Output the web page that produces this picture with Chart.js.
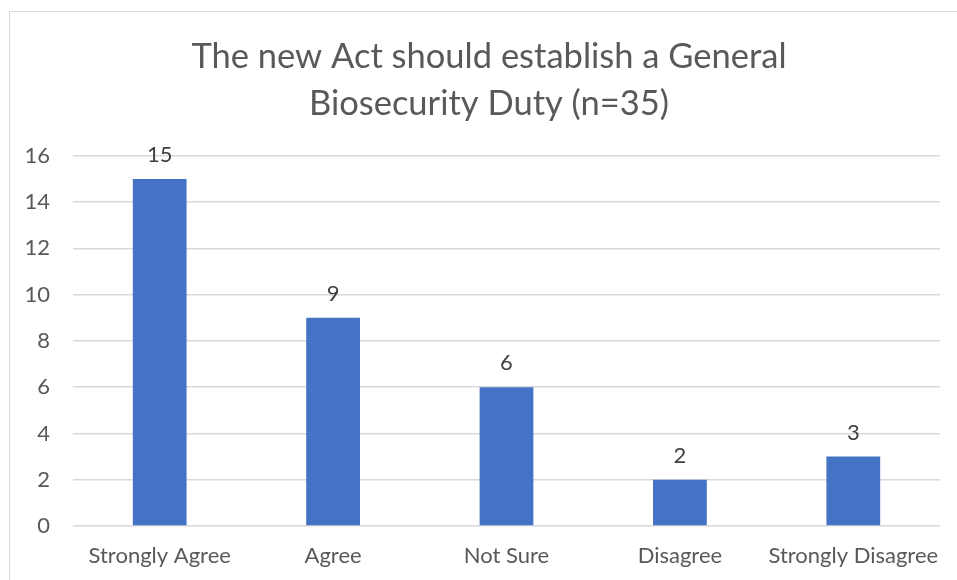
<!DOCTYPE html>
<html>
<head>
<meta charset="utf-8">
<script src="https://cdn.jsdelivr.net/npm/chart.js@4/dist/chart.umd.min.js"></script>
<style>
  html, body { margin: 0; padding: 0; background: #fff; overflow: hidden; }
  #wrap { position: relative; width: 957px; height: 580px; }
  #frame {
    position: absolute; left: 9px; top: 11px; width: 1000px; height: 1000px;
    border: 1.5px solid #d9d9d9; box-sizing: border-box;
  }
  canvas { position: absolute; left: 0; top: 0; }
</style>
</head>
<body>
<div id="wrap">
  <div id="frame"></div>
  <canvas id="chart" width="957" height="580"></canvas>
</div>
<script>
// Respuestas de la encuesta
const categories = ['Strongly Agree', 'Agree', 'Not Sure', 'Disagree', 'Strongly Disagree'];
const responses = [15, 9, 6, 2, 3];
const titleLines = ['The new Act should establish a General', 'Biosecurity Duty (n=35)'];
const yMax = 16;
const yStep = 2;

const fontFamily = 'Lato, "Open Sans", sans-serif';

// Etiquetas de valor encima de cada barra
const valueLabels = {
    id: 'valueLabels',
    afterDatasetsDraw(chart) {
        const ctx = chart.ctx;
        const meta = chart.getDatasetMeta(0);
        ctx.save();
        ctx.font = '22px ' + fontFamily;
        ctx.fillStyle = '#404040';
        ctx.textAlign = 'center';
        ctx.textBaseline = 'middle';
        meta.data.forEach((bar, i) => {
            ctx.fillText(String(chart.data.datasets[0].data[i]), bar.x, bar.y - 24);
        });
        ctx.restore();
    }
};

// Centrar el título dentro del marco (no sobre todo el lienzo)
const titleShift = {
    id: 'titleShift',
    afterLayout(chart) {
        if (chart.titleBlock) chart.titleBlock.left += 38;
    }
};

function initChart() {
    const ctx = document.getElementById('chart').getContext('2d');
    new Chart(ctx, {
        type: 'bar',
        data: {
            labels: categories,
            datasets: [{
                data: responses,
                backgroundColor: '#4472c4',
                borderWidth: 0,
                barPercentage: 0.62,
                categoryPercentage: 0.5
            }]
        },
        options: {
            responsive: false,
            animation: false,
            layout: { padding: { left: 0, right: 17, top: 33, bottom: 0 } },
            plugins: {
                legend: { display: false },
                tooltip: { enabled: false },
                title: {
                    display: true,
                    text: titleLines,
                    color: '#595959',
                    font: { family: fontFamily, size: 34.5, weight: 'normal', lineHeight: 1.36 },
                    padding: { top: 0, bottom: 29 }
                }
            },
            scales: {
                x: {
                    grid: { display: false, drawTicks: false },
                    border: { display: false },
                    ticks: {
                        color: '#595959', font: { family: fontFamily, size: 22 }, padding: 17,
                        maxRotation: 0, minRotation: 0, autoSkip: false
                    },
                    // Alto fijo del eje y sin relleno extra por las etiquetas de los extremos
                    afterFit(scale) {
                        scale.height = 54;
                        scale.paddingLeft = 0;
                        scale.paddingRight = 0;
                    }
                },
                y: {
                    min: 0,
                    max: yMax,
                    grid: { color: '#d9d9d9', lineWidth: 1.5, drawTicks: false },
                    border: { display: false },
                    ticks: { stepSize: yStep, color: '#595959', font: { family: fontFamily, size: 22 }, padding: 23 },
                    afterFit(scale) {
                        scale.width = 73;
                        scale.paddingTop = 0;
                        scale.paddingBottom = 0;
                    }
                }
            }
        },
        plugins: [valueLabels, titleShift]
    });
}

document.addEventListener('DOMContentLoaded', initChart);
</script>
</body>
</html>
